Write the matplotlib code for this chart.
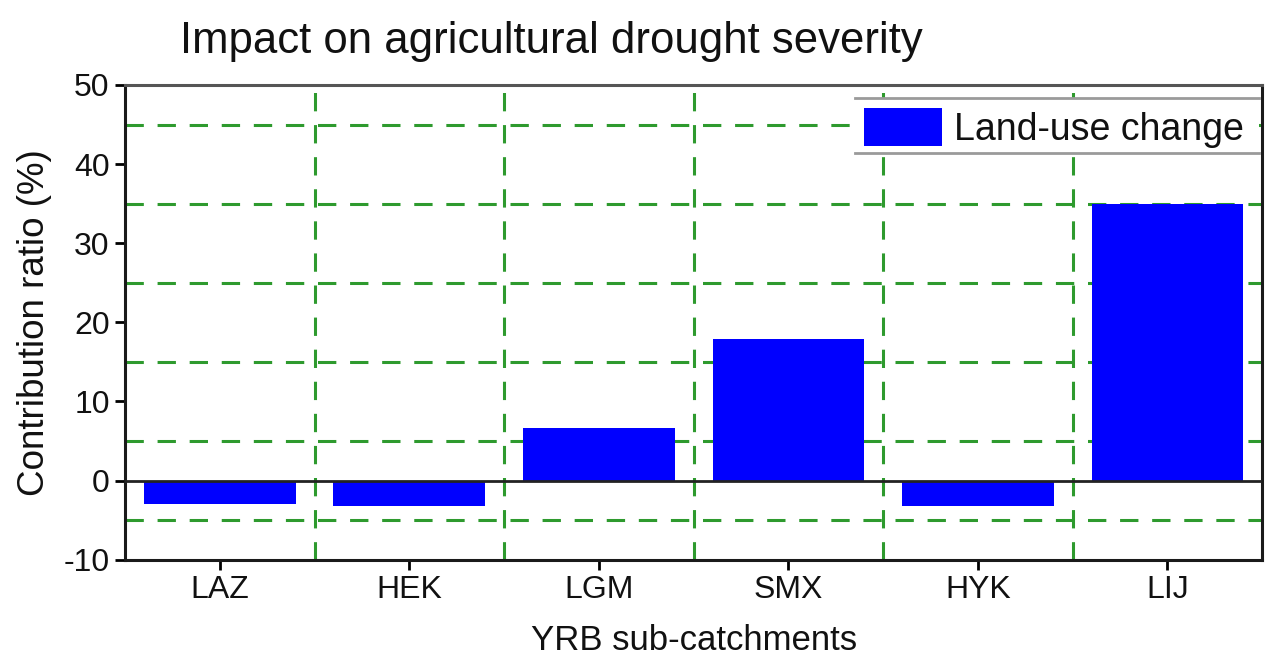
import numpy as np
import matplotlib.pyplot as plt
from matplotlib.patches import Rectangle
from matplotlib.ticker import MultipleLocator, FixedLocator


catchments = ['LAZ', 'HEK', 'LGM', 'SMX', 'HYK', 'LIJ']
land_use   = [-2.9, -3.2, 6.7, 17.9, -3.2, 35.0]

y_ticks    = [-10, 0, 10, 20, 30, 40, 50]


def plot_contribution():
    plt.rcParams['font.family'] = ['Liberation Sans', 'DejaVu Sans']
    plt.rcParams['axes.unicode_minus'] = False

    fig = plt.figure(figsize = (12.75, 6.64), dpi = 100)
    ax  = fig.add_axes([0.098, 0.157, 0.892, 0.715])

    x = np.arange(len(catchments))

    ax.set_axisbelow(True)
    ax.bar(x, land_use, width = 0.8, color = '#0000ff', label = 'Land-use change', zorder = 2)
    ax.axhline(0, color = '#222222', lw = 2, zorder = 3)

    ax.set_xlim(-0.5, len(catchments) - 0.5)
    ax.set_ylim(-10, 50)
    ax.set_xticks(x)
    ax.set_xticklabels(catchments)
    ax.xaxis.set_minor_locator(FixedLocator(x[:-1] + 0.5))
    ax.set_yticks(y_ticks)
    ax.yaxis.set_minor_locator(MultipleLocator(10, offset = 5))

    # dashed guides sit between the catchments and halfway between the labelled ticks
    ax.grid(which = 'minor', color = '#2e9a2e', ls = (0, (6, 4.5)), lw = 2.2)
    ax.grid(which = 'major', visible = False)

    ax.tick_params(axis = 'both', which = 'major', direction = 'out', length = 7, width = 2,
                   labelsize = 23, pad = 4, labelcolor = '#111111')
    ax.tick_params(axis = 'both', which = 'minor', length = 0)

    for side in ax.spines.values():
        side.set_linewidth(2.2)
        side.set_color('#1a1a1a')
    ax.spines['top'].set_color('#555555')

    ax.set_xlabel('YRB sub-catchments', fontsize = 25, labelpad = 14, color = '#111111')
    ax.set_ylabel('Contribution ratio (%)', fontsize = 26.5, labelpad = 8, color = '#111111')
    fig.text(0.141, 0.938, 'Impact on agricultural drought severity', fontsize = 31.5,
             va = 'center', color = '#111111')

    # legend strip: white box with a grey rule above and below
    ax.add_patch(Rectangle((0.642, 0.857), 0.355, 0.116, transform = ax.transAxes,
                           facecolor = 'white', edgecolor = 'none', zorder = 3))
    for yy in (0.973, 0.857):
        ax.plot([0.642, 0.997], [yy, yy], transform = ax.transAxes, color = '#9a9a9a', lw = 2,
                clip_on = False, zorder = 4)
    ax.legend(loc = 'upper right', bbox_to_anchor = (1.0, 0.99), frameon = False, fontsize = 27,
              handlelength = 2.1, handleheight = 1.15, handletextpad = 0.3, borderaxespad = 0.1,
              labelcolor = '#111111')

    plt.savefig('out.png', format = 'png')
    plt.close()


if __name__ == '__main__':
    plot_contribution()
